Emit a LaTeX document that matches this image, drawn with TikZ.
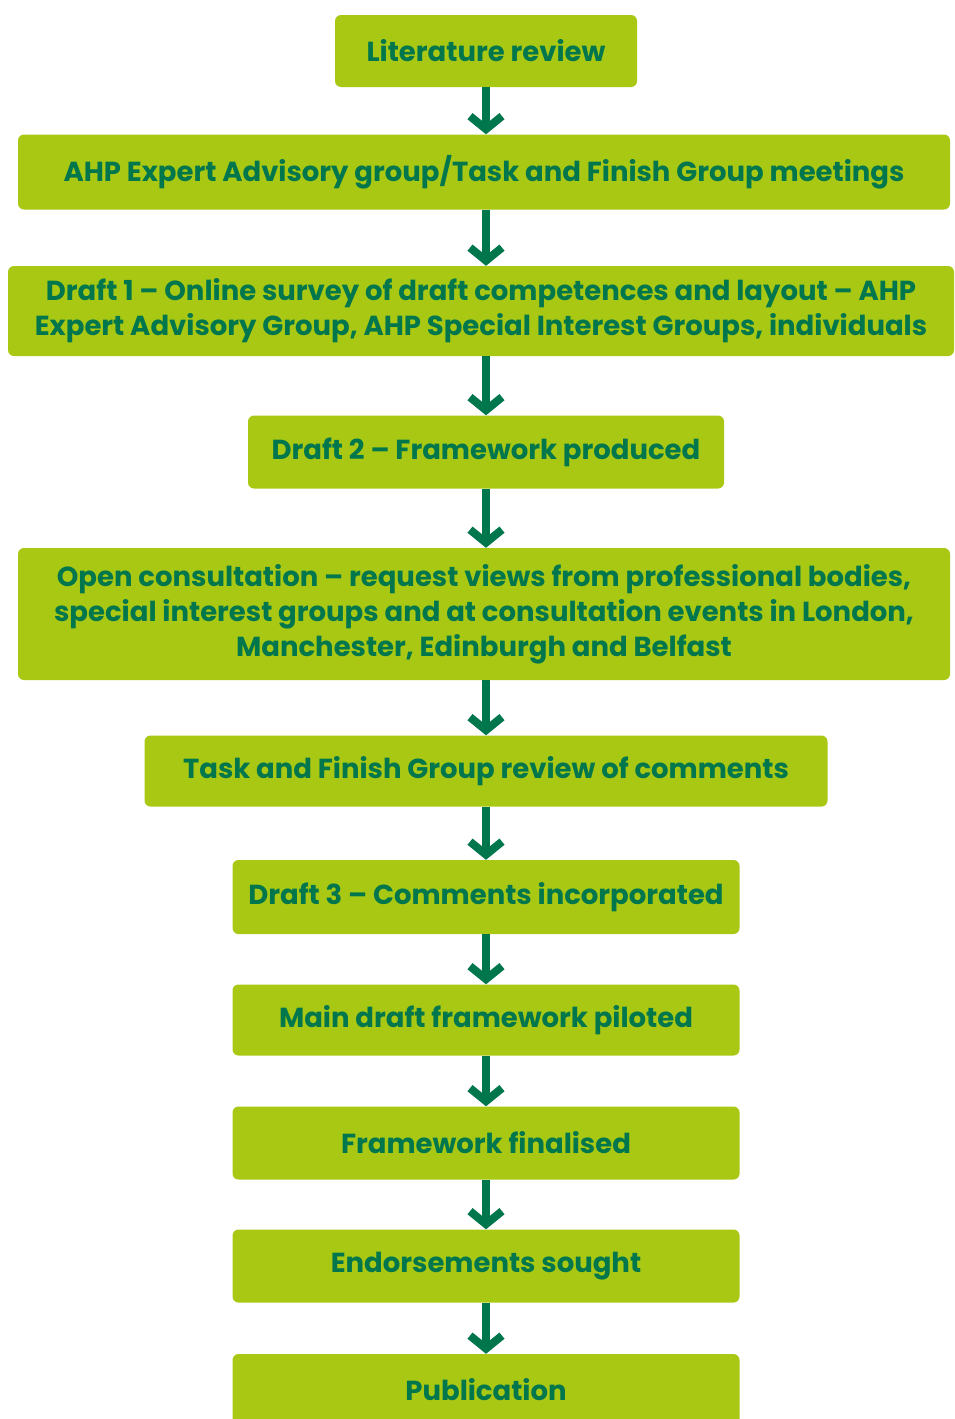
\documentclass[tikz,border=0pt]{standalone}
\usepackage{fontspec}
\setmainfont{Poppins}
\usetikzlibrary{arrows.meta}

\definecolor{limebox}{HTML}{A8C814}
\definecolor{darkgreen}{HTML}{00764D}

\tikzset{
  stage/.style={fill=limebox, text=darkgreen, rounded corners=6pt, align=center,
    inner sep=0pt, font=\fontsize{27.5}{35}\selectfont\bfseries},
  flow/.style={draw=darkgreen, line width=8pt,
    -{Straight Barb[length=13pt,width=32pt]}}
}

\begin{document}
\begin{tikzpicture}[x=1pt,y=-1pt]

\clip (0,0) rectangle (954,1419);
\fill[white] (0,0) rectangle (954,1419);

%\draw[help lines,step=50] (0,0) grid (954,1419);

\node[stage, minimum width=302, minimum height=72] (lit) at (486,51) {Literature review};
\node[stage, minimum width=932, minimum height=75] (ahp) at (484,172) {AHP Expert Advisory group/Task and Finish Group meetings};
\node[stage, minimum width=946, minimum height=90] (draftone) at (481,311)
  {Draft 1 -- Online survey of draft competences and layout -- AHP\\Expert Advisory Group, AHP Special Interest Groups, individuals};
\node[stage, minimum width=476, minimum height=73] (drafttwo) at (486,452) {Draft 2 -- Framework produced};
\node[stage, minimum width=932, minimum height=132] (consult) at (484,614)
  {Open consultation -- request views from professional bodies,\\special interest groups and at consultation events in London,\\Manchester, Edinburgh and Belfast};
\node[stage, minimum width=683, minimum height=71] (review) at (486,771) {Task and Finish Group review of comments};
\node[stage, minimum width=507, minimum height=74] (draftthree) at (486,897) {Draft 3 -- Comments incorporated};
\node[stage, minimum width=507, minimum height=71] (pilot) at (486,1020) {Main draft framework piloted};
\node[stage, minimum width=507, minimum height=73] (final) at (486,1143) {Framework finalised};
\node[stage, minimum width=507, minimum height=73] (endorse) at (486,1266) {Endorsements sought};
\node[stage, minimum width=507, minimum height=72] (publish) at (486,1390) {Publication};

% connectors between the stages
\draw[flow] (lit.south) -- (ahp.north -| lit.south);
\draw[flow] (ahp.south -| lit.south) -- (draftone.north -| lit.south);
\draw[flow] (draftone.south -| lit.south) -- (drafttwo.north);
\draw[flow] (drafttwo.south) -- (consult.north -| lit.south);
\draw[flow] (consult.south -| lit.south) -- (review.north);
\draw[flow] (review.south) -- (draftthree.north);
\draw[flow] (draftthree.south) -- (pilot.north);
\draw[flow] (pilot.south) -- (final.north);
\draw[flow] (final.south) -- (endorse.north);
\draw[flow] (endorse.south) -- (publish.north);

\end{tikzpicture}
\end{document}
